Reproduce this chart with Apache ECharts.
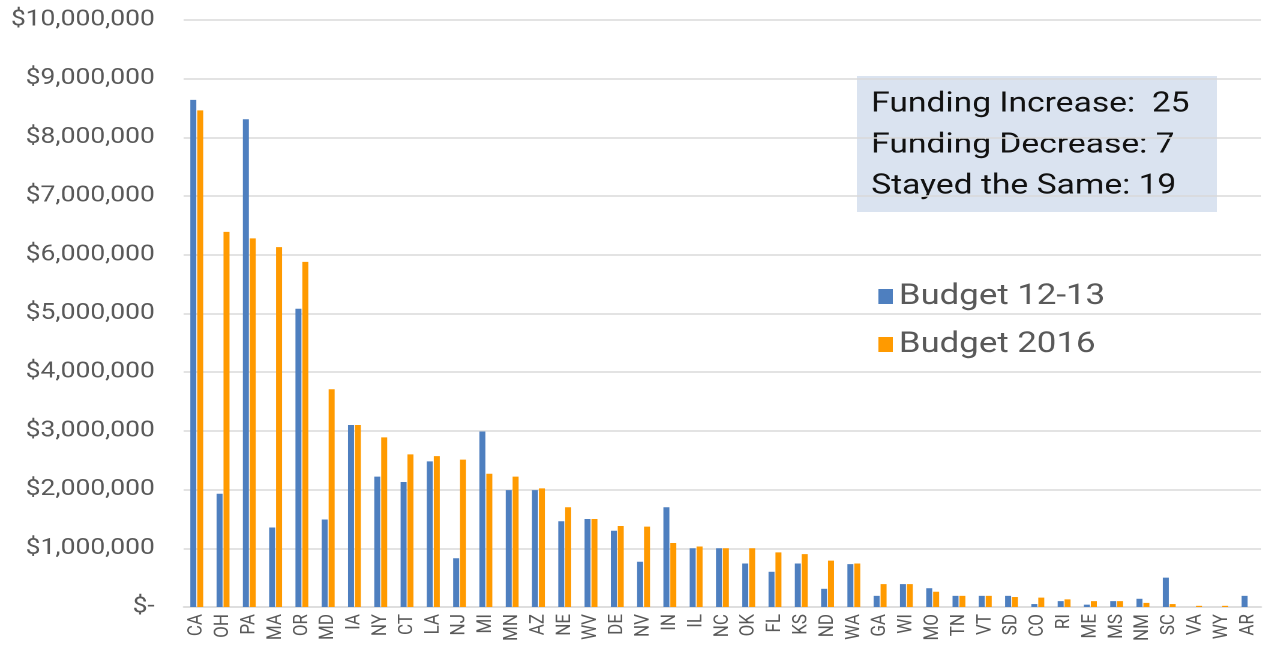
<!DOCTYPE html>
<html>
<head>
<meta charset="utf-8">
<script src="https://cdn.jsdelivr.net/npm/echarts@6/dist/echarts.min.js"></script>
<style>
    html, body { margin: 0; padding: 0; background: #fff; overflow: hidden; }
    /* 原图横向被拉宽，这里按比例拉伸画布 */
    #chart { width: 1053px; height: 650px; transform: scaleX(1.2); transform-origin: 0 0; }
</style>
</head>
<body>
<div id="chart"></div>
<script>
//州
const states = ['CA', 'OH', 'PA', 'MA', 'OR', 'MD', 'IA', 'NY', 'CT', 'LA', 'NJ', 'MI', 'MN', 'AZ',
    'NE', 'WV', 'DE', 'NV', 'IN', 'IL', 'NC', 'OK', 'FL', 'KS', 'ND', 'WA', 'GA', 'WI', 'MO', 'TN',
    'VT', 'SD', 'CO', 'RI', 'ME', 'MS', 'NM', 'SC', 'VA', 'WY', 'AR'];

//Budget 12-13
const budget1213 = [8640000, 1930000, 8310000, 1355000, 5080000, 1490000, 3100000, 2220000, 2130000, 2480000,
    830000, 2990000, 1990000, 1990000, 1460000, 1500000, 1300000, 770000, 1700000, 1000000, 1000000,
    740000, 600000, 740000, 310000, 730000, 190000, 390000, 320000, 190000, 190000, 190000, 50000,
    100000, 40000, 100000, 140000, 500000, 0, 0, 190000];

//Budget 2016
const budget2016 = [8460000, 6390000, 6280000, 6130000, 5880000, 3710000, 3100000, 2890000, 2600000, 2570000,
    2510000, 2270000, 2220000, 2020000, 1700000, 1500000, 1380000, 1370000, 1090000, 1030000, 1000000,
    1000000, 930000, 900000, 790000, 740000, 390000, 390000, 260000, 190000, 190000, 170000, 160000,
    130000, 100000, 100000, 70000, 50000, 20000, 20000, 0];

//文本框
const summaryLines = ['Funding Increase:  25', 'Funding Decrease: 7', 'Stayed the Same: 19'];

const chart = echarts.init(document.getElementById('chart'), null, { devicePixelRatio: 2 });

function money(v) {
    if (v === 0) return '$-';
    return '$' + v.toLocaleString('en-US');
}

let option = {
    animation: false,
    textStyle: { fontFamily: 'Roboto' },
    grid: { left: 153, right: 2, top: 20, bottom: 43, containLabel: false },
    legend: {
        orient: 'vertical',
        left: 727,
        top: 277,
        itemWidth: 12,
        itemHeight: 15,
        itemGap: 19,
        icon: 'rect',
        textStyle: { fontSize: 29, color: '#595959', fontFamily: 'Roboto', padding: [0, 0, 0, 0] },
        data: ['Budget 12-13', 'Budget 2016']
    },
    xAxis: {
        type: 'category',
        data: states,
        axisLine: { lineStyle: { color: '#d9d9d9', width: 1.5 } },
        axisTick: { show: false },
        axisLabel: { rotate: 90, fontSize: 17, color: '#595959', margin: 7, interval: 0 }
    },
    yAxis: {
        type: 'value',
        min: 0,
        max: 10000000,
        interval: 1000000,
        axisLine: { show: false },
        axisTick: { show: false },
        splitLine: { lineStyle: { color: '#d9d9d9', width: 1.5 } },
        axisLabel: { fontSize: 22, color: '#595959', margin: 24, formatter: money }
    },
    series: [
        {
            name: 'Budget 12-13',
            type: 'bar',
            data: budget1213,
            barWidth: 5,
            barGap: '15%',
            itemStyle: { color: '#4e7fbf' }
        },
        {
            name: 'Budget 2016',
            type: 'bar',
            data: budget2016,
            barWidth: 5,
            itemStyle: { color: '#ff9a00' }
        }
    ],
    graphic: [
        {
            type: 'rect',
            left: 714,
            top: 76,
            shape: { width: 300, height: 136 },
            style: { fill: '#dae3f0' }
        },
        {
            type: 'text',
            left: 726,
            top: 84,
            style: {
                text: summaryLines.join('\n'),
                font: '28px Roboto',
                lineHeight: 41,
                fill: '#111'
            }
        }
    ]
};
chart.setOption(option);
</script>
</body>
</html>
